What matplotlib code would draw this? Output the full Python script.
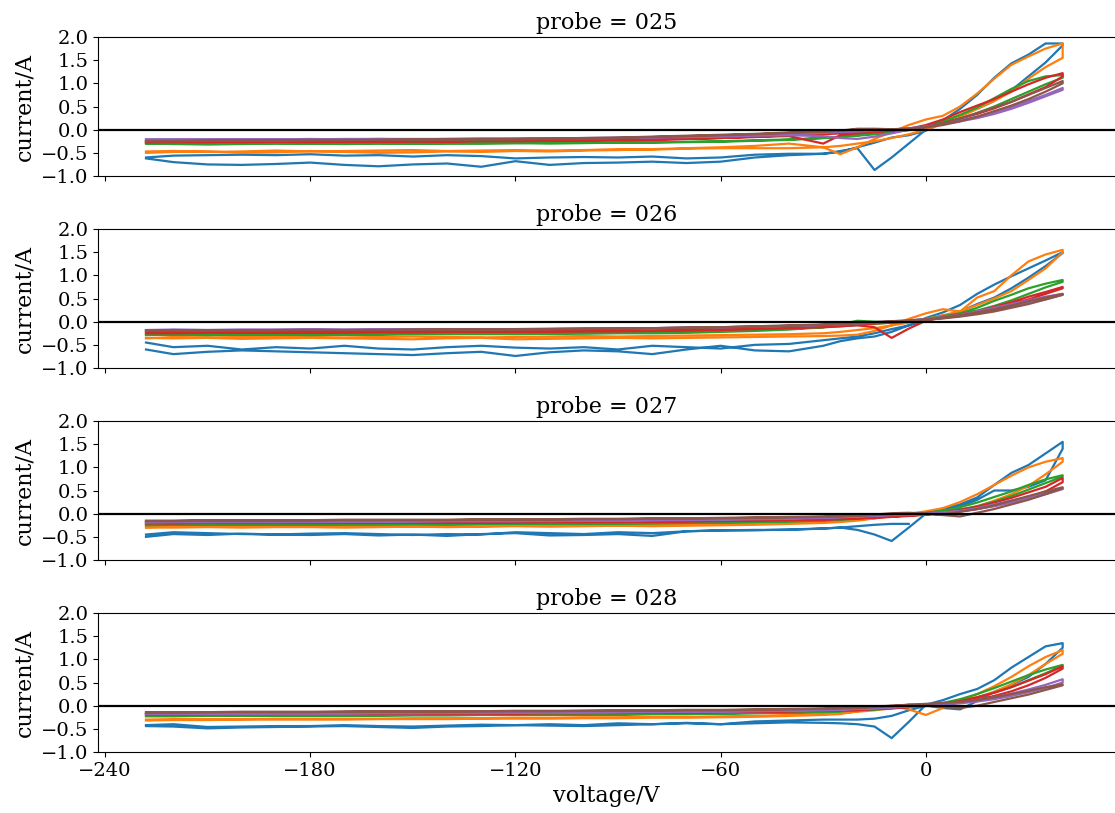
import numpy as np
import matplotlib
matplotlib.use("Agg")
import matplotlib.pyplot as plt

plt.rcParams["font.family"] = "DejaVu Serif"

nan = np.nan

# voltage steps of the sweep, current read on the way up and on the way back down
volts = [-228, -220, -210, -200, -190, -180, -170, -160, -150, -140, -130,
         -120, -110, -100, -90, -80, -70, -60, -50, -40, -30,
         -25, -20, -15, -10, -5, 0, 5, 10, 15, 20, 25, 30, 35, 40]
probes = ["025", "026", "027", "028"]

# probe 025 (one list per run, colours C0..C5)
p025_up = [
    [-0.62, -0.70, -0.75, -0.76, -0.74, -0.71, -0.76, -0.79, -0.75, -0.73, -0.80, -0.68, -0.76, -0.72, -0.71, -0.69, -0.72, -0.69, -0.60, -0.55, -0.52,
     -0.46, -0.40, -0.87, -0.60, -0.30, 0.00, 0.20, 0.45, 0.75, 1.12, 1.43, 1.62, 1.86, 1.86],
    [-0.50, -0.48, -0.47, -0.50, -0.49, -0.46, -0.48, -0.50, -0.49, -0.47, -0.48, -0.46, -0.47, -0.45, -0.44, -0.42, -0.40, -0.38, -0.35, -0.30, -0.38,
     -0.53, -0.38, -0.20, -0.05, 0.10, 0.22, 0.30, 0.50, 0.78, 1.10, 1.40, 1.58, 1.75, 1.86],
    [-0.29, -0.31, -0.32, -0.31, -0.30, -0.30, -0.31, -0.30, -0.30, -0.29, -0.30, -0.29, -0.30, -0.29, -0.28, -0.28, -0.27, -0.26, -0.24, -0.22, -0.18,
     -0.16, -0.13, -0.10, -0.06, 0.00, 0.08, 0.18, 0.32, 0.48, 0.68, 0.88, 1.05, 1.15, 1.18],
    [-0.27, -0.27, -0.27, -0.26, -0.26, -0.27, -0.26, -0.26, -0.25, -0.26, -0.25, -0.25, -0.24, -0.24, -0.23, -0.22, -0.20, -0.18, -0.15, -0.14, -0.30,
     -0.12, -0.08, -0.05, -0.02, 0.02, 0.10, 0.22, 0.38, 0.52, 0.66, 0.82, 0.98, 1.12, 1.22],
    [-0.21, -0.21, -0.22, -0.21, -0.21, -0.20, -0.21, -0.20, -0.21, -0.20, -0.20, -0.20, -0.19, -0.19, -0.18, -0.17, -0.16, -0.15, -0.13, -0.12, -0.14,
     -0.18, -0.20, -0.15, -0.08, 0.00, 0.06, 0.12, 0.20, 0.28, 0.38, 0.50, 0.62, 0.75, 0.90],
    [-0.25, -0.25, -0.24, -0.24, -0.24, -0.23, -0.23, -0.22, -0.22, -0.22, -0.21, -0.21, -0.20, -0.20, -0.18, -0.16, -0.14, -0.12, -0.10, -0.07, -0.04,
     -0.02, 0.02, 0.02, 0.01, 0.02, 0.06, 0.14, 0.24, 0.36, 0.48, 0.60, 0.75, 0.90, 1.05],
]
p025_down = [
    [-0.60, -0.56, -0.55, -0.54, -0.55, -0.53, -0.56, -0.55, -0.58, -0.55, -0.57, -0.62, -0.60, -0.59, -0.60, -0.58, -0.62, -0.60, -0.54, -0.52, -0.52,
     -0.48, -0.38, -0.28, -0.17, -0.12, -0.02, 0.15, 0.30, 0.45, 0.62, 0.85, 1.15, 1.45, 1.82],
    [-0.47, -0.46, -0.48, -0.47, -0.45, -0.47, -0.46, -0.45, -0.44, -0.46, -0.45, -0.44, -0.45, -0.44, -0.42, -0.43, -0.41, -0.40, -0.40, -0.40, -0.38,
     -0.35, -0.30, -0.25, -0.18, -0.10, 0.00, 0.12, 0.28, 0.45, 0.62, 0.82, 1.10, 1.35, 1.55],
    [-0.30, -0.30, -0.29, -0.29, -0.29, -0.30, -0.29, -0.29, -0.30, -0.30, -0.29, -0.29, -0.28, -0.28, -0.28, -0.27, -0.26, -0.25, -0.23, -0.21, -0.18,
     -0.15, -0.12, -0.08, -0.05, -0.01, 0.06, 0.14, 0.24, 0.36, 0.50, 0.66, 0.82, 0.98, 1.12],
    [-0.27, -0.26, -0.26, -0.27, -0.26, -0.26, -0.25, -0.26, -0.25, -0.25, -0.24, -0.24, -0.24, -0.23, -0.22, -0.21, -0.20, -0.18, -0.16, -0.12, -0.10,
     -0.08, -0.06, -0.04, -0.02, 0.01, 0.06, 0.14, 0.24, 0.34, 0.46, 0.60, 0.76, 0.92, 1.15],
    [-0.22, -0.22, -0.21, -0.21, -0.21, -0.21, -0.20, -0.20, -0.20, -0.20, -0.19, -0.19, -0.19, -0.18, -0.17, -0.16, -0.15, -0.13, -0.11, -0.09, -0.07,
     -0.05, -0.04, -0.02, 0.00, 0.03, 0.07, 0.12, 0.18, 0.25, 0.34, 0.45, 0.58, 0.72, 0.86],
    [-0.24, -0.24, -0.23, -0.23, -0.23, -0.22, -0.22, -0.22, -0.21, -0.21, -0.21, -0.20, -0.19, -0.18, -0.17, -0.15, -0.13, -0.11, -0.09, -0.06, -0.04,
     -0.02, 0.00, 0.01, 0.01, 0.02, 0.05, 0.10, 0.18, 0.28, 0.40, 0.52, 0.66, 0.82, 1.00],
]

# probe 026
p026_up = [
    [-0.60, -0.70, -0.65, -0.62, -0.64, -0.66, -0.68, -0.70, -0.72, -0.68, -0.65, -0.74, -0.66, -0.62, -0.64, -0.70, -0.60, -0.52, -0.62, -0.64, -0.52,
     -0.42, -0.36, -0.32, -0.22, -0.08, 0.08, 0.20, 0.36, 0.60, 0.80, 0.98, 1.15, 1.32, 1.50],
    [-0.35, -0.36, -0.35, -0.37, -0.36, -0.35, -0.36, -0.37, -0.38, -0.36, -0.35, -0.38, -0.37, -0.36, -0.35, -0.36, -0.35, -0.34, -0.33, -0.32, -0.31,
     -0.30, -0.28, -0.20, -0.08, 0.06, 0.18, 0.27, 0.22, 0.52, 0.66, 1.00, 1.30, 1.45, 1.55],
    [-0.28, -0.28, -0.29, -0.28, -0.28, -0.29, -0.28, -0.28, -0.27, -0.27, -0.27, -0.27, -0.26, -0.26, -0.25, -0.25, -0.24, -0.22, -0.20, -0.17, -0.12,
     -0.06, 0.02, 0.00, -0.02, 0.02, 0.06, 0.12, 0.18, 0.30, 0.45, 0.58, 0.72, 0.82, 0.90],
    [-0.25, -0.25, -0.24, -0.24, -0.24, -0.24, -0.23, -0.23, -0.23, -0.22, -0.22, -0.22, -0.21, -0.21, -0.21, -0.20, -0.19, -0.18, -0.16, -0.14, -0.12,
     -0.10, -0.08, -0.12, -0.35, -0.15, 0.02, 0.10, 0.16, 0.22, 0.32, 0.42, 0.54, 0.64, 0.75],
    [-0.18, -0.17, -0.18, -0.18, -0.17, -0.17, -0.18, -0.17, -0.17, -0.16, -0.17, -0.16, -0.16, -0.15, -0.15, -0.14, -0.13, -0.12, -0.11, -0.09, -0.07,
     -0.05, -0.03, -0.01, 0.01, 0.03, 0.06, 0.10, 0.15, 0.22, 0.30, 0.38, 0.46, 0.54, 0.60],
    [-0.19, -0.19, -0.19, -0.19, -0.18, -0.18, -0.18, -0.18, -0.17, -0.17, -0.17, -0.16, -0.16, -0.15, -0.15, -0.14, -0.13, -0.12, -0.10, -0.08, -0.06,
     -0.04, -0.02, -0.01, 0.01, 0.02, 0.05, 0.09, 0.14, 0.20, 0.27, 0.35, 0.44, 0.52, 0.60],
]
p026_down = [
    [-0.45, -0.55, -0.52, -0.60, -0.55, -0.58, -0.52, -0.58, -0.60, -0.55, -0.52, -0.56, -0.58, -0.55, -0.60, -0.52, -0.55, -0.58, -0.50, -0.48, -0.40,
     -0.36, -0.32, -0.25, -0.16, -0.08, 0.02, 0.12, 0.22, 0.38, 0.52, 0.72, 0.95, 1.20, 1.48],
    [-0.36, -0.33, -0.34, -0.33, -0.32, -0.33, -0.34, -0.33, -0.32, -0.33, -0.34, -0.33, -0.32, -0.31, -0.32, -0.31, -0.30, -0.29, -0.28, -0.27, -0.25,
     -0.22, -0.18, -0.14, -0.08, -0.02, 0.06, 0.14, 0.22, 0.36, 0.50, 0.66, 0.90, 1.15, 1.50],
    [-0.29, -0.28, -0.28, -0.28, -0.27, -0.27, -0.27, -0.27, -0.26, -0.26, -0.26, -0.25, -0.25, -0.24, -0.24, -0.23, -0.22, -0.20, -0.18, -0.15, -0.12,
     -0.10, -0.07, -0.05, -0.02, 0.00, 0.04, 0.09, 0.16, 0.24, 0.34, 0.46, 0.60, 0.74, 0.86],
    [-0.24, -0.24, -0.24, -0.23, -0.23, -0.23, -0.23, -0.22, -0.22, -0.22, -0.21, -0.21, -0.21, -0.20, -0.20, -0.19, -0.18, -0.16, -0.14, -0.12, -0.10,
     -0.08, -0.06, -0.04, -0.02, 0.00, 0.04, 0.08, 0.14, 0.20, 0.28, 0.38, 0.48, 0.60, 0.72],
    [-0.19, -0.18, -0.18, -0.17, -0.18, -0.17, -0.17, -0.17, -0.16, -0.16, -0.16, -0.16, -0.15, -0.15, -0.14, -0.14, -0.13, -0.12, -0.10, -0.09, -0.07,
     -0.06, -0.04, -0.02, 0.00, 0.02, 0.04, 0.08, 0.12, 0.18, 0.25, 0.32, 0.40, 0.48, 0.58],
    [-0.20, -0.19, -0.19, -0.19, -0.19, -0.18, -0.18, -0.18, -0.18, -0.17, -0.17, -0.17, -0.16, -0.16, -0.15, -0.14, -0.13, -0.12, -0.11, -0.09, -0.07,
     -0.06, -0.04, -0.02, 0.00, 0.02, 0.04, 0.07, 0.11, 0.16, 0.22, 0.30, 0.38, 0.48, 0.58],
]

# probe 027
p027_up = [
    [-0.50, -0.44, -0.46, -0.43, -0.45, -0.46, -0.44, -0.47, -0.45, -0.48, -0.44, -0.42, -0.47, -0.46, -0.44, -0.48, -0.38, -0.36, -0.36, -0.34, -0.32,
     -0.30, -0.35, -0.45, -0.59, -0.30, 0.00, 0.10, 0.20, 0.35, 0.62, 0.88, 1.05, 1.30, 1.55],
    [-0.30, -0.30, -0.29, -0.30, -0.29, -0.29, -0.30, -0.29, -0.28, -0.29, -0.28, -0.27, -0.28, -0.27, -0.26, -0.27, -0.26, -0.25, -0.24, -0.22, -0.20,
     -0.18, -0.15, -0.10, -0.05, 0.00, 0.05, 0.12, 0.25, 0.42, 0.62, 0.82, 1.00, 1.12, 1.20],
    [-0.24, -0.24, -0.24, -0.23, -0.24, -0.23, -0.23, -0.23, -0.22, -0.23, -0.22, -0.22, -0.22, -0.21, -0.21, -0.20, -0.20, -0.19, -0.18, -0.16, -0.14,
     -0.12, -0.10, -0.07, -0.04, -0.02, 0.02, 0.06, 0.14, 0.24, 0.36, 0.48, 0.62, 0.74, 0.83],
    [-0.20, -0.20, -0.20, -0.20, -0.20, -0.20, -0.19, -0.19, -0.19, -0.19, -0.19, -0.18, -0.18, -0.18, -0.17, -0.17, -0.16, -0.15, -0.14, -0.13, -0.12,
     -0.11, -0.10, -0.09, -0.07, -0.05, -0.02, 0.02, 0.08, 0.15, 0.24, 0.34, 0.46, 0.58, 0.77],
    [-0.18, -0.18, -0.18, -0.17, -0.18, -0.17, -0.17, -0.17, -0.16, -0.16, -0.16, -0.16, -0.15, -0.15, -0.15, -0.14, -0.13, -0.12, -0.11, -0.10, -0.08,
     -0.07, -0.06, -0.04, -0.02, -0.02, -0.01, 0.02, 0.06, 0.12, 0.20, 0.28, 0.36, 0.45, 0.55],
    [-0.15, -0.15, -0.14, -0.14, -0.14, -0.14, -0.13, -0.13, -0.13, -0.13, -0.12, -0.12, -0.12, -0.11, -0.11, -0.10, -0.10, -0.09, -0.08, -0.07, -0.06,
     -0.05, -0.04, -0.02, 0.01, 0.02, 0.00, -0.02, 0.04, 0.10, 0.18, 0.28, 0.38, 0.48, 0.57],
]
p027_down = [
    [-0.45, -0.40, -0.42, -0.44, -0.45, -0.43, -0.42, -0.44, -0.46, -0.44, -0.45, -0.40, -0.42, -0.44, -0.40, -0.42, -0.38, -0.36, -0.35, -0.35, -0.32,
     -0.30, -0.27, -0.24, -0.22, -0.22, nan, 0.12, 0.15, 0.30, 0.50, 0.50, 0.58, 0.72, 1.40],
    [-0.29, -0.28, -0.28, -0.28, -0.28, -0.27, -0.27, -0.27, -0.27, -0.26, -0.27, -0.26, -0.26, -0.25, -0.25, -0.24, -0.24, -0.23, -0.22, -0.20, -0.18,
     -0.16, -0.13, -0.10, -0.06, -0.02, 0.01, 0.04, 0.08, 0.16, 0.28, 0.42, 0.60, 0.85, 1.12],
    [-0.25, -0.24, -0.24, -0.24, -0.24, -0.24, -0.23, -0.23, -0.23, -0.23, -0.22, -0.22, -0.22, -0.22, -0.21, -0.21, -0.20, -0.19, -0.18, -0.17, -0.15,
     -0.13, -0.11, -0.08, -0.05, -0.02, 0.01, 0.04, 0.09, 0.16, 0.26, 0.38, 0.52, 0.66, 0.80],
    [-0.21, -0.21, -0.20, -0.20, -0.20, -0.20, -0.20, -0.20, -0.19, -0.19, -0.19, -0.19, -0.18, -0.18, -0.18, -0.17, -0.17, -0.16, -0.15, -0.14, -0.13,
     -0.12, -0.10, -0.08, -0.06, -0.04, -0.02, 0.01, 0.05, 0.10, 0.17, 0.25, 0.35, 0.48, 0.68],
    [-0.19, -0.18, -0.18, -0.18, -0.18, -0.17, -0.17, -0.17, -0.17, -0.16, -0.16, -0.16, -0.16, -0.15, -0.15, -0.14, -0.14, -0.13, -0.12, -0.11, -0.09,
     -0.08, -0.06, -0.05, -0.03, -0.02, 0.00, 0.02, 0.05, 0.10, 0.16, 0.24, 0.32, 0.42, 0.53],
    [-0.16, -0.16, -0.15, -0.15, -0.15, -0.15, -0.14, -0.14, -0.14, -0.14, -0.13, -0.13, -0.13, -0.12, -0.12, -0.11, -0.11, -0.10, -0.09, -0.08, -0.07,
     -0.06, -0.04, -0.03, -0.01, 0.00, 0.00, -0.03, -0.06, 0.02, 0.10, 0.20, 0.30, 0.42, 0.55],
]

# probe 028
p028_up = [
    [-0.44, -0.45, -0.49, -0.47, -0.46, -0.45, -0.44, -0.46, -0.48, -0.45, -0.44, -0.42, -0.43, -0.44, -0.42, -0.40, -0.38, -0.40, -0.38, -0.36, -0.37,
     -0.38, -0.40, -0.45, -0.70, -0.35, 0.02, 0.12, 0.25, 0.36, 0.55, 0.82, 1.05, 1.28, 1.35],
    [-0.32, -0.31, -0.31, -0.30, -0.30, -0.30, -0.30, -0.29, -0.29, -0.29, -0.28, -0.28, -0.28, -0.27, -0.27, -0.26, -0.26, -0.25, -0.24, -0.22, -0.20,
     -0.18, -0.12, -0.05, 0.00, -0.08, -0.20, -0.05, 0.10, 0.25, 0.42, 0.62, 0.85, 1.05, 1.20],
    [-0.22, -0.22, -0.22, -0.22, -0.21, -0.21, -0.21, -0.21, -0.20, -0.20, -0.20, -0.20, -0.19, -0.19, -0.19, -0.18, -0.18, -0.17, -0.16, -0.15, -0.13,
     -0.12, -0.10, -0.08, -0.05, -0.02, 0.01, 0.06, 0.14, 0.25, 0.38, 0.52, 0.66, 0.78, 0.88],
    [-0.18, -0.18, -0.18, -0.18, -0.18, -0.17, -0.17, -0.17, -0.17, -0.17, -0.16, -0.16, -0.16, -0.16, -0.15, -0.15, -0.14, -0.14, -0.13, -0.12, -0.11,
     -0.10, -0.09, -0.07, -0.05, -0.03, 0.00, 0.04, 0.10, 0.18, 0.28, 0.40, 0.54, 0.68, 0.85],
    [-0.17, -0.17, -0.17, -0.17, -0.16, -0.16, -0.16, -0.16, -0.16, -0.15, -0.15, -0.15, -0.15, -0.14, -0.14, -0.13, -0.13, -0.12, -0.11, -0.10, -0.09,
     -0.08, -0.06, -0.05, -0.03, -0.02, 0.00, 0.03, 0.07, 0.12, 0.18, 0.26, 0.35, 0.45, 0.57],
    [-0.14, -0.14, -0.14, -0.13, -0.13, -0.13, -0.13, -0.12, -0.12, -0.12, -0.12, -0.11, -0.11, -0.11, -0.10, -0.10, -0.09, -0.09, -0.08, -0.07, -0.06,
     -0.05, -0.04, -0.02, 0.00, 0.02, 0.04, 0.06, 0.08, 0.12, 0.18, 0.25, 0.32, 0.40, 0.46],
]
p028_down = [
    [-0.42, -0.40, -0.46, -0.45, -0.44, -0.44, -0.42, -0.44, -0.45, -0.43, -0.41, -0.42, -0.40, -0.42, -0.38, -0.40, -0.37, -0.40, -0.34, -0.32, -0.30,
     -0.30, -0.30, -0.28, -0.22, -0.10, 0.00, -0.05, -0.08, 0.10, 0.30, 0.45, 0.62, 0.90, 1.25],
    [-0.30, -0.29, -0.29, -0.29, -0.28, -0.28, -0.28, -0.28, -0.27, -0.27, -0.27, -0.26, -0.26, -0.25, -0.25, -0.24, -0.24, -0.23, -0.22, -0.20, -0.18,
     -0.16, -0.13, -0.10, -0.06, -0.03, 0.00, 0.04, 0.10, 0.18, 0.30, 0.46, 0.66, 0.90, 1.12],
    [-0.23, -0.23, -0.22, -0.22, -0.22, -0.22, -0.21, -0.21, -0.21, -0.21, -0.20, -0.20, -0.20, -0.19, -0.19, -0.18, -0.18, -0.17, -0.16, -0.15, -0.14,
     -0.12, -0.10, -0.08, -0.06, -0.03, 0.00, 0.04, 0.10, 0.18, 0.28, 0.40, 0.55, 0.70, 0.86],
    [-0.19, -0.19, -0.18, -0.18, -0.18, -0.18, -0.18, -0.18, -0.17, -0.17, -0.17, -0.17, -0.16, -0.16, -0.16, -0.15, -0.15, -0.14, -0.13, -0.12, -0.11,
     -0.10, -0.09, -0.07, -0.05, -0.03, -0.01, 0.02, 0.07, 0.13, 0.21, 0.31, 0.44, 0.60, 0.80],
    [-0.18, -0.18, -0.17, -0.17, -0.17, -0.17, -0.17, -0.16, -0.16, -0.16, -0.16, -0.15, -0.15, -0.15, -0.14, -0.14, -0.13, -0.13, -0.12, -0.11, -0.10,
     -0.09, -0.07, -0.06, -0.04, -0.02, 0.00, 0.02, 0.05, 0.09, 0.14, 0.21, 0.29, 0.38, 0.50],
    [-0.15, -0.15, -0.14, -0.14, -0.14, -0.14, -0.13, -0.13, -0.13, -0.13, -0.12, -0.12, -0.12, -0.11, -0.11, -0.11, -0.10, -0.10, -0.09, -0.08, -0.07,
     -0.06, -0.05, -0.03, -0.01, 0.02, 0.01, -0.03, -0.05, 0.00, 0.08, 0.16, 0.24, 0.34, 0.44],
]

sweeps = {"025": (p025_up, p025_down), "026": (p026_up, p026_down),
          "027": (p027_up, p027_down), "028": (p028_up, p028_down)}

fig, axes = plt.subplots(4, 1, figsize=(11.15, 8.13), dpi=100, sharex=True)
fig.subplots_adjust(left=0.088, right=1.0, top=0.9545, bottom=0.075, hspace=0.381)

v = np.array(volts + volts[::-1], dtype=float)
for ax, probe in zip(axes, probes):
    up, down = sweeps[probe]
    for k in range(len(up)):
        cur = np.array(up[k] + down[k][::-1], dtype=float)
        ax.plot(v, cur, color=f"C{k}", lw=1.6)
    ax.axhline(0, color="k", lw=1.6)
    ax.set_title(f"probe = {probe}", fontsize=16)
    ax.set_ylabel("current/A", fontsize=16)
    ax.set_ylim(-1.0, 2.0)
    ax.set_yticks([-1.0, -0.5, 0.0, 0.5, 1.0, 1.5, 2.0])
    ax.tick_params(labelsize=14)
    ax.spines["right"].set_visible(False)

axes[-1].set_xlim(-242, 55.3)
axes[-1].set_xticks([-240, -180, -120, -60, 0])
axes[-1].set_xlabel("voltage/V", fontsize=16)

fig.savefig("out.png", dpi=100)
